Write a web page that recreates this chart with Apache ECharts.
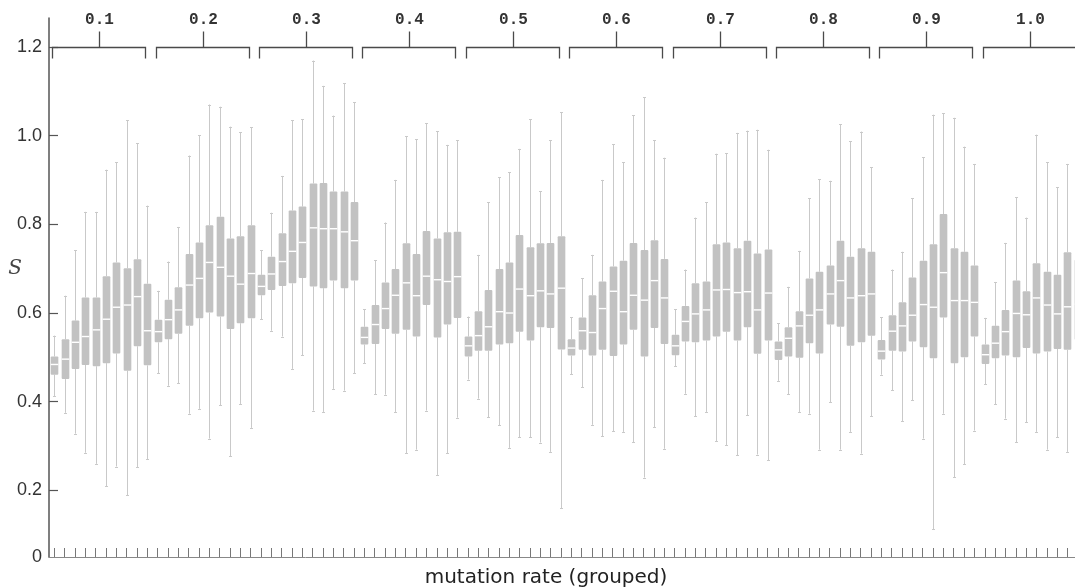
<!DOCTYPE html>
<html>
<head>
<meta charset="utf-8">
<title>mutation rate (grouped)</title>
<script src="https://cdn.jsdelivr.net/npm/echarts@6/dist/echarts.min.js"></script>
<style>
  html, body { margin: 0; padding: 0; background: #fff; }
  #chart { width: 1075px; height: 588px; }
</style>
</head>
<body>
<div id="chart"></div>
<script>
// group labels along the top, 10 boxes per group
var groups = ['0.1', '0.2', '0.3', '0.4', '0.5', '0.6', '0.7', '0.8', '0.9', '1.0']
var boxesPerGroup = 10

// y axis labels (bottom of the axis is labelled 0)
var yLabelValues = [0.05, 0.2, 0.4, 0.6, 0.8, 1.0, 1.2]
var yTickValues = [0.2, 0.4, 0.6, 0.8, 1.0, 1.2]

// box statistics, one line per group
var whiskerLow = [
  0.413, 0.375, 0.328, 0.285, 0.260, 0.209, 0.254, 0.189, 0.253, 0.271,
  0.464, 0.436, 0.442, 0.373, 0.384, 0.317, 0.392, 0.277, 0.395, 0.341,
  0.586, 0.560, 0.547, 0.474, 0.505, 0.380, 0.377, 0.429, 0.425, 0.464,
  0.487, 0.417, 0.416, 0.377, 0.284, 0.292, 0.380, 0.235, 0.284, 0.364,
  0.450, 0.407, 0.365, 0.347, 0.296, 0.320, 0.320, 0.308, 0.287, 0.160,
  0.462, 0.433, 0.348, 0.322, 0.333, 0.332, 0.309, 0.229, 0.343, 0.294,
  0.480, 0.418, 0.367, 0.377, 0.311, 0.302, 0.279, 0.369, 0.281, 0.268,
  0.447, 0.417, 0.377, 0.373, 0.292, 0.399, 0.292, 0.332, 0.283, 0.367,
  0.461, 0.426, 0.356, 0.403, 0.317, 0.112, 0.373, 0.230, 0.259, 0.335,
  0.440, 0.394, 0.362, 0.309, 0.354, 0.332, 0.292, 0.320, 0.287, 0.330
]
var quartile1 = [
  0.461, 0.451, 0.474, 0.483, 0.480, 0.487, 0.509, 0.470, 0.525, 0.482,
  0.534, 0.541, 0.553, 0.571, 0.588, 0.601, 0.592, 0.564, 0.577, 0.588,
  0.640, 0.652, 0.661, 0.667, 0.679, 0.660, 0.656, 0.673, 0.656, 0.673,
  0.529, 0.530, 0.564, 0.553, 0.562, 0.547, 0.618, 0.545, 0.574, 0.589,
  0.502, 0.515, 0.515, 0.529, 0.532, 0.558, 0.538, 0.568, 0.566, 0.518,
  0.504, 0.517, 0.504, 0.517, 0.503, 0.529, 0.562, 0.502, 0.566, 0.530,
  0.505, 0.536, 0.534, 0.538, 0.547, 0.558, 0.538, 0.568, 0.508, 0.538,
  0.494, 0.502, 0.499, 0.532, 0.509, 0.574, 0.569, 0.526, 0.534, 0.549,
  0.495, 0.515, 0.513, 0.536, 0.523, 0.498, 0.590, 0.487, 0.500, 0.547,
  0.485, 0.498, 0.504, 0.500, 0.521, 0.509, 0.513, 0.519, 0.517, 0.540
]
var median = [
  0.484, 0.496, 0.534, 0.547, 0.562, 0.586, 0.613, 0.618, 0.637, 0.560,
  0.558, 0.585, 0.607, 0.663, 0.678, 0.714, 0.703, 0.683, 0.665, 0.689,
  0.660, 0.688, 0.716, 0.739, 0.759, 0.792, 0.790, 0.790, 0.783, 0.763,
  0.545, 0.574, 0.610, 0.640, 0.668, 0.639, 0.683, 0.675, 0.671, 0.682,
  0.526, 0.549, 0.569, 0.603, 0.600, 0.654, 0.639, 0.650, 0.643, 0.656,
  0.521, 0.560, 0.556, 0.610, 0.649, 0.603, 0.640, 0.629, 0.673, 0.634,
  0.526, 0.581, 0.598, 0.607, 0.652, 0.653, 0.646, 0.648, 0.607, 0.645,
  0.517, 0.543, 0.571, 0.595, 0.607, 0.643, 0.673, 0.634, 0.639, 0.643,
  0.514, 0.559, 0.571, 0.595, 0.619, 0.613, 0.691, 0.628, 0.628, 0.624,
  0.506, 0.532, 0.558, 0.599, 0.596, 0.634, 0.618, 0.598, 0.614, 0.620
]
var quartile3 = [
  0.502, 0.541, 0.583, 0.635, 0.635, 0.683, 0.714, 0.701, 0.721, 0.666,
  0.585, 0.630, 0.658, 0.733, 0.759, 0.798, 0.817, 0.768, 0.773, 0.798,
  0.686, 0.727, 0.780, 0.831, 0.840, 0.892, 0.893, 0.874, 0.874, 0.850,
  0.569, 0.618, 0.669, 0.699, 0.757, 0.733, 0.785, 0.768, 0.782, 0.783,
  0.547, 0.604, 0.652, 0.699, 0.714, 0.776, 0.748, 0.757, 0.758, 0.773,
  0.541, 0.590, 0.640, 0.671, 0.705, 0.718, 0.758, 0.742, 0.764, 0.722,
  0.551, 0.616, 0.667, 0.671, 0.755, 0.759, 0.746, 0.763, 0.734, 0.743,
  0.536, 0.568, 0.604, 0.678, 0.693, 0.707, 0.763, 0.727, 0.746, 0.738,
  0.539, 0.595, 0.624, 0.680, 0.718, 0.755, 0.823, 0.746, 0.738, 0.707,
  0.529, 0.571, 0.607, 0.673, 0.649, 0.712, 0.693, 0.686, 0.737, 0.720
]
var whiskerHigh = [
  0.549, 0.639, 0.742, 0.828, 0.828, 0.923, 0.940, 1.035, 0.983, 0.842,
  0.650, 0.716, 0.794, 0.955, 1.001, 1.070, 1.065, 1.020, 1.008, 1.019,
  0.742, 0.826, 0.909, 1.035, 1.037, 1.169, 1.112, 1.045, 1.118, 1.075,
  0.609, 0.719, 0.804, 0.900, 0.998, 0.992, 1.028, 1.010, 0.979, 0.990,
  0.592, 0.731, 0.850, 0.906, 0.917, 0.970, 1.037, 0.874, 0.989, 1.052,
  0.590, 0.678, 0.731, 0.900, 0.981, 0.940, 1.046, 1.086, 0.989, 0.950,
  0.609, 0.698, 0.815, 0.850, 0.959, 0.960, 1.006, 1.011, 1.013, 0.968,
  0.577, 0.659, 0.740, 0.859, 0.901, 0.898, 1.026, 0.987, 1.009, 0.929,
  0.590, 0.698, 0.738, 0.859, 0.951, 1.047, 1.050, 1.040, 0.975, 0.936,
  0.589, 0.670, 0.758, 0.861, 0.815, 1.002, 0.940, 0.883, 0.936, 0.950
]

var categories = []
groups.forEach(function (g) {
  for (var k = 1; k <= boxesPerGroup; k++) categories.push(g + '/' + k)
})

var boxData = categories.map(function (c, i) {
  return [i, whiskerLow[i], quartile1[i], median[i], quartile3[i], whiskerHigh[i]]
})

// brackets span first..last box of each group, drawn at y = 1.2
var bracketData = groups.map(function (g, i) {
  return [i * boxesPerGroup, i * boxesPerGroup + boxesPerGroup - 1, 1.2]
})

function px(v) {
  return Math.round(v) + 0.5
}

function renderBox(params, api) {
  var x = api.value(0)
  var low = api.coord([x, api.value(1)])
  var q1 = api.coord([x, api.value(2)])
  var med = api.coord([x, api.value(3)])
  var q3 = api.coord([x, api.value(4)])
  var high = api.coord([x, api.value(5)])
  var half = api.size([1, 0])[0] * 0.37
  var cx = px(low[0])
  var whisker = { stroke: '#c9c9c9', lineWidth: 1 }
  return {
    type: 'group',
    children: [
      { type: 'line', shape: { x1: cx, y1: high[1], x2: cx, y2: q3[1] }, style: whisker },
      { type: 'line', shape: { x1: cx, y1: q1[1], x2: cx, y2: low[1] }, style: whisker },
      { type: 'line', shape: { x1: cx - 1.5, y1: px(high[1]), x2: cx + 1.5, y2: px(high[1]) }, style: whisker },
      { type: 'line', shape: { x1: cx - 1.5, y1: px(low[1]), x2: cx + 1.5, y2: px(low[1]) }, style: whisker },
      {
        type: 'rect',
        shape: { x: cx - half, y: q3[1], width: half * 2, height: q1[1] - q3[1], r: 1 },
        style: { fill: '#c2c2c2' }
      },
      {
        type: 'line',
        shape: { x1: cx - half, y1: med[1], x2: cx + half, y2: med[1] },
        style: { stroke: '#ffffff', lineWidth: 1.4 }
      }
    ]
  }
}

function renderBracket(params, api) {
  var shift = api.size([1, 0])[0] * 0.2
  var a = api.coord([api.value(0), api.value(2)])
  var b = api.coord([api.value(1), api.value(2)])
  var x1 = px(a[0] - shift)
  var x2 = px(b[0] - shift)
  var y = px(a[1])
  var mid = px((x1 + x2) / 2)
  var st = { stroke: '#4a4a4a', lineWidth: 1.3, fill: null }
  return {
    type: 'group',
    children: [
      { type: 'polyline', shape: { points: [[x1, y + 11], [x1, y], [x2, y], [x2, y + 11]] }, style: st },
      { type: 'line', shape: { x1: mid, y1: y, x2: mid, y2: y - 16 }, style: st },
      {
        type: 'text',
        x: mid,
        y: y - 28,
        style: {
          text: groups[params.dataIndex],
          fill: '#333',
          font: 'bold 16px "Liberation Mono", "DejaVu Sans Mono", monospace',
          align: 'center',
          verticalAlign: 'middle'
        }
      }
    ]
  }
}

var chart = echarts.init(document.getElementById('chart'))
chart.setOption({
  animation: false,
  backgroundColor: '#ffffff',
  grid: {
    left: 49,
    top: 18,
    width: 1034,
    height: 539,
    containLabel: false,
    outerBoundsMode: 'none'
  },
  xAxis: {
    type: 'category',
    data: categories,
    boundaryGap: true,
    name: 'mutation rate (grouped)',
    nameLocation: 'middle',
    nameGap: 11,
    nameMoveOverlap: false,
    nameTextStyle: {
      fontFamily: 'DejaVu Sans',
      fontSize: 20,
      color: '#222',
      verticalAlign: 'top',
      padding: [0, 40, 0, 0]
    },
    axisLine: { lineStyle: { color: '#888', width: 1 } },
    axisTick: {
      show: true,
      inside: true,
      length: 9,
      interval: 0,
      alignWithLabel: true,
      lineStyle: { color: '#777', width: 1 }
    },
    axisLabel: { show: false },
    splitLine: { show: false }
  },
  yAxis: {
    type: 'value',
    min: 0.05,
    max: 1.265,
    name: 'S',
    nameLocation: 'middle',
    nameRotate: 0,
    nameGap: 27,
    nameMoveOverlap: false,
    nameTextStyle: {
      fontFamily: 'DejaVu Serif',
      fontStyle: 'italic',
      fontSize: 20,
      color: '#444',
      verticalAlign: 'bottom',
      lineHeight: 38
    },
    axisLine: { show: true, lineStyle: { color: '#555', width: 1.5 } },
    axisTick: {
      show: true,
      inside: true,
      length: 9,
      customValues: yTickValues,
      lineStyle: { color: '#555', width: 1.2 }
    },
    axisLabel: {
      customValues: yLabelValues,
      margin: 7,
      fontSize: 18,
      fontFamily: 'Liberation Sans',
      color: '#333',
      formatter: function (v) {
        return v < 0.1 ? '0' : v.toFixed(1)
      }
    },
    splitLine: { show: false }
  },
  series: [
    {
      type: 'custom',
      name: 'S',
      renderItem: renderBox,
      encode: { x: 0, y: [1, 2, 3, 4, 5] },
      data: boxData
    },
    {
      type: 'custom',
      name: 'groups',
      renderItem: renderBracket,
      clip: false,
      encode: { x: [0, 1], y: 2 },
      data: bracketData,
      silent: true
    }
  ]
})
</script>
</body>
</html>
